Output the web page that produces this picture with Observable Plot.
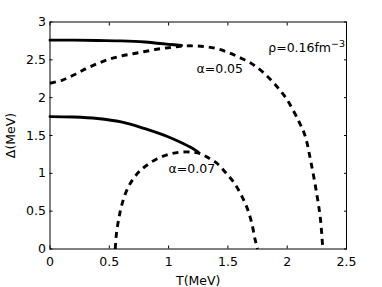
<!DOCTYPE html>
<html>
<head>
<meta charset="utf-8">
<script src="https://cdn.jsdelivr.net/npm/d3@7"></script>
<script src="https://cdn.jsdelivr.net/npm/@observablehq/plot@0.6"></script>
<style>
  html, body { margin: 0; padding: 0; background: #fff; }
  #chart svg { display: block; }
</style>
</head>
<body>
<div id="chart"></div>
<script>
// alpha = 0.05, solid branch
const a05SolidT = [0, 0.2, 0.4, 0.6, 0.8, 0.9, 1.0, 1.11];
const a05SolidD = [2.76, 2.76, 2.755, 2.75, 2.735, 2.72, 2.705, 2.69];
// alpha = 0.05, dashed branch
const a05DashT = [0, 0.1, 0.2, 0.3, 0.4, 0.5, 0.6, 0.7, 0.8, 0.9, 1.0, 1.1, 1.2, 1.3, 1.4, 1.5, 1.6, 1.7, 1.8, 1.9, 2.0, 2.1, 2.15, 2.2, 2.25, 2.28, 2.3];
const a05DashD = [2.19, 2.23, 2.30, 2.38, 2.45, 2.51, 2.55, 2.58, 2.61, 2.64, 2.66, 2.68, 2.685, 2.675, 2.65, 2.60, 2.53, 2.45, 2.33, 2.17, 1.97, 1.68, 1.50, 1.15, 0.72, 0.40, 0.0];
// alpha = 0.07, solid branch
const a07SolidT = [0, 0.2, 0.4, 0.6, 0.8, 1.0, 1.1, 1.2, 1.25];
const a07SolidD = [1.75, 1.745, 1.725, 1.68, 1.59, 1.48, 1.41, 1.33, 1.28];
// alpha = 0.07, dashed branch
const a07DashT = [0.55, 0.56, 0.58, 0.60, 0.64, 0.69, 0.75, 0.81, 0.9, 1.0, 1.1, 1.2, 1.27, 1.35, 1.41, 1.48, 1.55, 1.61, 1.66, 1.70, 1.73, 1.75];
const a07DashD = [0.0, 0.2, 0.4, 0.55, 0.75, 0.90, 1.02, 1.10, 1.19, 1.25, 1.28, 1.28, 1.26, 1.19, 1.13, 1.01, 0.88, 0.72, 0.55, 0.35, 0.12, 0.0];

const xTicks = [0, 0.5, 1, 1.5, 2, 2.5];
const yTicks = [0, 0.5, 1, 1.5, 2, 2.5, 3];
const labels = ["ρ=0.16fm⁻³", "α=0.05", "α=0.07"];
const labelT = [1.84, 1.235, 1.0];
const labelD = [2.60, 2.32, 1.0];

const toPts = (T, D) => T.map((t, i) => ({T: t, D: D[i]}));
const a05Solid = toPts(a05SolidT, a05SolidD);
const a05Dash = toPts(a05DashT, a05DashD);
const a07Solid = toPts(a07SolidT, a07SolidD);
const a07Dash = toPts(a07DashT, a07DashD);
const labelData = labels.map((s, i) => ({s, T: labelT[i], D: labelD[i]}));

const font = "DejaVu Sans, Liberation Sans, sans-serif";
const lw = 2.9;
const dash = "6,5";

const chart = Plot.plot({
  width: 382,
  height: 287,
  marginLeft: 49.5,
  marginRight: 36,
  marginTop: 21.5,
  marginBottom: 38.5,
  style: {fontFamily: font, fontSize: "12.5px", color: "#000", background: "#fff"},
  x: {domain: [0, 2.5]},
  y: {domain: [0, 3]},
  marks: [
    Plot.frame({stroke: "#000", strokeWidth: 1}),
    // inward ticks on all four sides
    Plot.axisX(xTicks, {anchor: "bottom", tickSize: -3, tickFormat: () => "", label: null}),
    Plot.axisX(xTicks, {anchor: "top", tickSize: -3, tickFormat: () => "", label: null}),
    Plot.axisY(yTicks, {anchor: "left", tickSize: -3, tickFormat: () => "", label: null}),
    Plot.axisY(yTicks, {anchor: "right", tickSize: -3, tickFormat: () => "", label: null}),
    // tick labels and axis titles
    Plot.axisX(xTicks, {anchor: "bottom", tickSize: 0, tickPadding: 8, tickFormat: d => String(d),
      fontSize: 12.5, label: "T(MeV)", labelAnchor: "center", labelOffset: 36, labelArrow: "none"}),
    Plot.axisY(yTicks, {anchor: "left", tickSize: 0, tickPadding: 4, tickFormat: d => String(d),
      fontSize: 12.5, label: "Δ(MeV)", labelAnchor: "center", labelOffset: 44, labelArrow: "none"}),
    Plot.line(a05Solid, {x: "T", y: "D", stroke: "#000", strokeWidth: lw, curve: "catmull-rom"}),
    Plot.line(a05Dash, {x: "T", y: "D", stroke: "#000", strokeWidth: lw, strokeDasharray: dash, strokeLinecap: "butt", curve: "catmull-rom"}),
    Plot.line(a07Solid, {x: "T", y: "D", stroke: "#000", strokeWidth: lw, curve: "catmull-rom"}),
    Plot.line(a07Dash, {x: "T", y: "D", stroke: "#000", strokeWidth: lw, strokeDasharray: dash, strokeLinecap: "butt", curve: "catmull-rom"}),
    Plot.text(labelData, {x: "T", y: "D", text: "s", textAnchor: "start", lineAnchor: "bottom", fontSize: 12.5, fill: "#000"})
  ]
});
document.getElementById("chart").appendChild(chart);

// render the density unit's exponent as a real superscript
d3.select(chart).selectAll("text").each(function () {
  const t = this.textContent;
  if (t.includes("fm⁻³")) {
    const node = this.querySelector("tspan") || this;
    node.textContent = t.replace("fm⁻³", "fm");
    const sup = document.createElementNS("http://www.w3.org/2000/svg", "tspan");
    sup.setAttribute("dy", "-5");
    sup.setAttribute("font-size", "9.5");
    sup.textContent = "−3";
    node.appendChild(sup);
  }
});
</script>
</body>
</html>
